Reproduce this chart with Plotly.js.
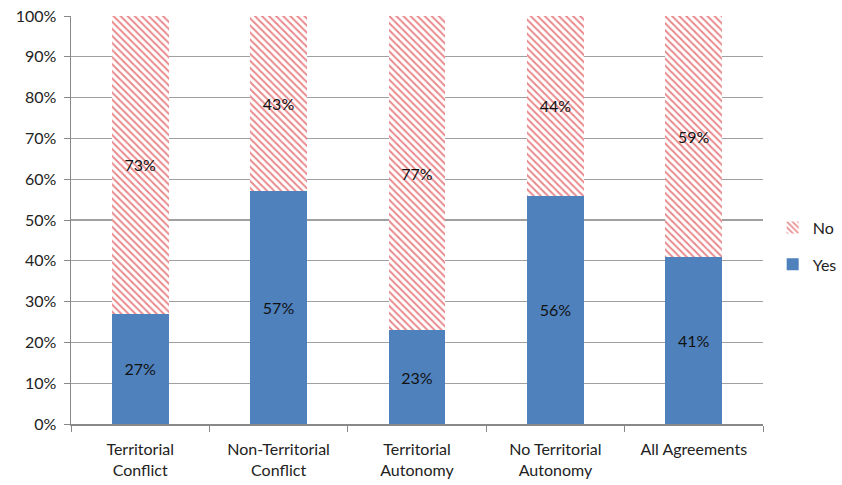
<!DOCTYPE html>
<html><head><meta charset="utf-8">
<script src="https://cdn.plot.ly/plotly-3.0.1.min.js"></script>
<style>html,body{margin:0;padding:0;background:#fff}#chart{width:842px;height:485px}</style>
</head><body><div id="chart"></div>
<script>
const categories = ["Territorial<br>Conflict", "Non-Territorial<br>Conflict", "Territorial<br>Autonomy", "No Territorial<br>Autonomy", "All Agreements"];
const yesValues = [27, 57, 23, 56, 41];
const noValues = [73, 43, 77, 44, 59];
const yTickVals = [0,10,20,30,40,50,60,70,80,90,100];
const yTickText = yTickVals.map(v => v + "%");

const fam = "Lato, 'Open Sans', sans-serif";
const font = {family: fam, size: 16, color: "#222"};
const traces = [
  {type: "bar", name: "Yes", legendgroup: "yes", legendrank: 2, x: categories, y: yesValues,
   text: yesValues.map(v => v + "%"), textposition: "inside", insidetextanchor: "middle",
   textfont: {family: fam, size: 16, color: "#111"},
   marker: {color: "#4f81bd"}, hoverinfo: "skip"},
  {type: "bar", name: "No", legendgroup: "no", legendrank: 1, x: categories, y: noValues,
   text: noValues.map(v => v + "%"), textposition: "inside", insidetextanchor: "middle",
   textfont: {family: fam, size: 16, color: "#111"},
   marker: {color: "rgba(0,0,0,0)", pattern: {shape: "\\", fgcolor: "#e9898c", bgcolor: "#ffffff", size: 5, solidity: 0.4}},
   hoverinfo: "skip"}
];
const layout = {
  width: 842, height: 485,
  margin: {l: 71, r: 79, t: 16, b: 61, autoexpand: false},
  barmode: "stack", bargap: 0.59,
  font: font,
  paper_bgcolor: "#fff", plot_bgcolor: "#fff",
  showlegend: true,
  legend: {x: 1.014, y: 0.436, yanchor: "middle", xanchor: "left", traceorder: "grouped", font: {family: fam, size: 16, color: "#222"}, itemwidth: 30, tracegroupgap: 13},
  xaxis: {type: "category", showline: true, linecolor: "#888", linewidth: 1.5, ticks: "outside", tickson: "boundaries", ticklen: 6, tickcolor: "#888", tickfont: font, showgrid: false, ticklabelstandoff: 10},
  yaxis: {range: [0, 100], tickvals: yTickVals, ticktext: yTickText, showline: true, linecolor: "#888", linewidth: 1.5, ticks: "outside", ticklen: 6, tickcolor: "#888", gridcolor: "#a0a0a0", gridwidth: 1.2, tickfont: font, zeroline: false, ticklabelstandoff: 4}
};
Plotly.newPlot("chart", traces, layout, {displayModeBar: false, staticPlot: true});
</script></body></html>
